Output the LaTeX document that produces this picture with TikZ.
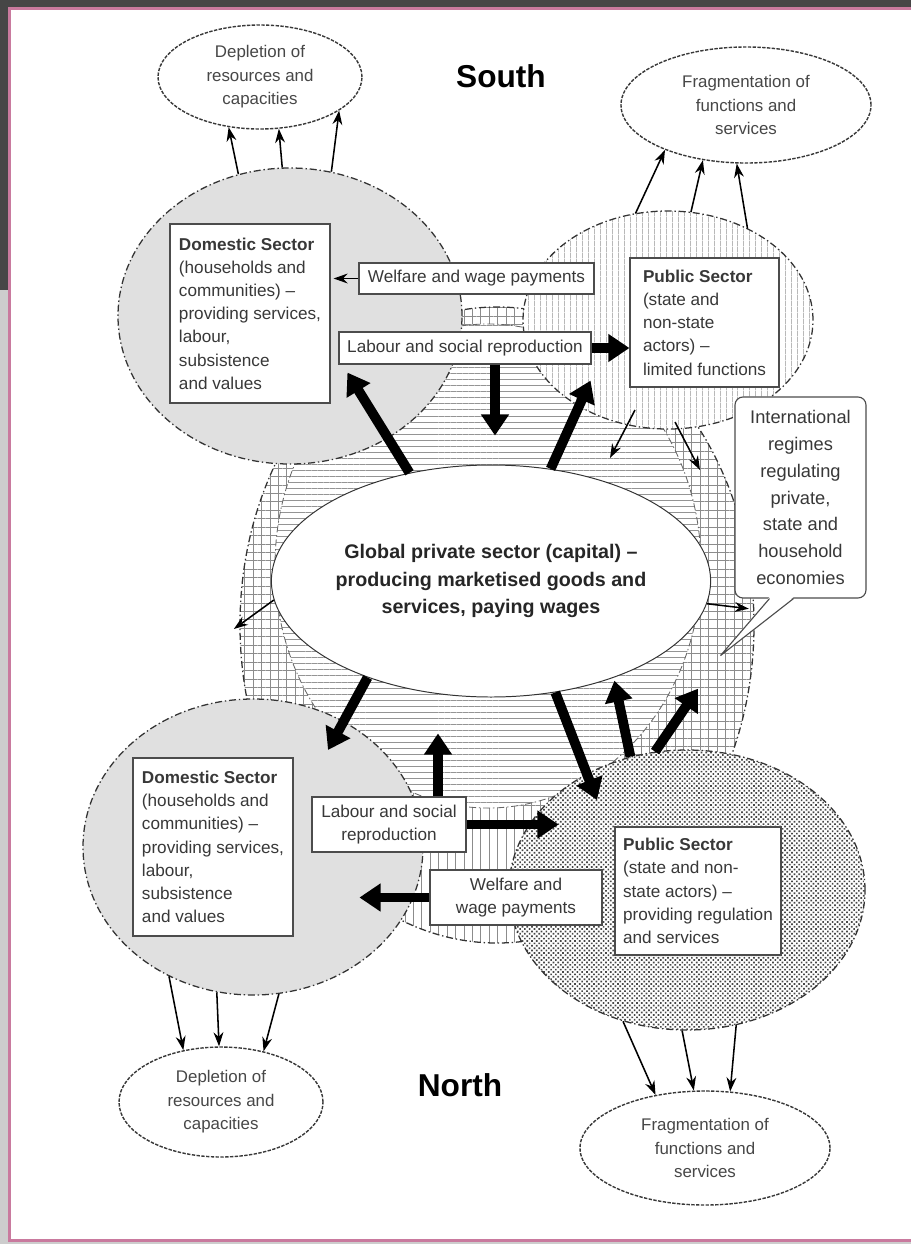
\documentclass[tikz,border=0pt]{standalone}
\usepackage{fontspec}
\setmainfont{Liberation Sans}
\usetikzlibrary{shapes.geometric, patterns.meta, arrows.meta, calc}
\definecolor{pagepink}{RGB}{201,122,158}
\definecolor{framegray}{RGB}{70,70,70}
\definecolor{sidegray}{RGB}{205,205,205}
\definecolor{domgray}{RGB}{224,224,224}

\begin{document}
\begin{tikzpicture}[x=0.25mm, y=-0.25mm,
  dashdot/.style={dash pattern=on 5pt off 2pt on 1pt off 2pt},
  sector/.style={ellipse, draw=black!80, line width=0.9pt, dashdot, inner sep=0pt},
  outcome/.style={ellipse, draw=black!78, line width=1pt, dash pattern=on 2.4pt off 1pt,
                  fill=white, inner sep=0pt, align=center, text=black!72,
                  font=\fontsize{12}{16.7}\selectfont},
  box/.style={draw=black!70, line width=0.8pt, fill=white, inner sep=0pt, text=black!78,
              font=\fontsize{12.2}{16.5}\selectfont},
  flow/.style={-{Stealth[length=10pt, width=7pt]}, line width=1.1pt},
  bigflow/.style={-{Triangle[length=15pt, width=19pt]}, line width=7pt}]
  \useasboundingbox (0,0) rectangle (911,1244);
  % page frame
  \fill[sidegray] (0,0) rectangle (911,1244);
  \fill[framegray] (0,0) rectangle (911,7);
  \fill[framegray] (0,0) rectangle (8,290);
  \fill[pagepink] (8,7) rectangle (911,1242);
  \fill[white] (11,10) rectangle (911,1239);

  % international regimes (grid) and private sector sphere
  \node[ellipse, inner sep=0pt, minimum width=128.5mm, minimum height=159mm, preaction={fill=white},
        pattern={Lines[angle=90, distance=6pt, line width=0.45pt]}, pattern color=black!45] (reg) at (497,625) {};
  \begin{scope}
    \clip (reg.center) ellipse [x radius=64.25mm, y radius=79.5mm];
    \fill[pattern={Lines[angle=0, distance=6pt, line width=0.45pt]}, pattern color=black!45] (11,10) rectangle (911,808);
  \end{scope}
  \draw[black!80, line width=0.9pt, dashdot] (reg.center) ellipse [x radius=64.25mm, y radius=79.5mm];
  \node[ellipse, draw=black!60, line width=0.6pt, dashdot, inner sep=0pt, minimum width=106.5mm, minimum height=121mm,
        preaction={fill=white}, pattern={Lines[angle=0, distance=4.3pt, line width=0.4pt]},
        pattern color=black!42] (prv) at (488,566) {};

  % the four sectors
  \node[sector, fill=domgray, minimum width=86mm, minimum height=74mm] (dom_s) at (290,316) {};
  \node[sector, preaction={fill=white}, pattern={Lines[angle=90, distance=4pt, line width=0.4pt]},
        pattern color=black!42, minimum width=72.5mm, minimum height=54.5mm] (pub_s) at (668,320) {};
  \node[sector, fill=domgray, minimum width=85mm, minimum height=74mm] (dom_n) at (253,847) {};
  \node[sector, preaction={fill=white}, pattern={Dots[distance=2.4pt, angle=45, radius=0.85pt]},
        pattern color=black!72, minimum width=89mm, minimum height=70mm] (pub_n) at (687,890) {};

  \node[ellipse, draw=black!80, line width=0.7pt, fill=white, inner sep=0pt, minimum width=100.5mm,
        minimum height=58mm, align=center, text=black!85, font=\bfseries\fontsize{14}{19.8}\selectfont] (cen)
        at (491,581) {Global private sector (capital) –\\producing marketised goods and\\services, paying wages};

  % text boxes
  \node[box, align=left, minimum width=40mm, minimum height=44.75mm] (dom_sbox) at (250,313.5)
    {\textbf{Domestic Sector}\\(households and\\communities) –\\providing services,\\labour,\\subsistence\\and values};
  \node[box, align=left, minimum width=37.25mm, minimum height=32.25mm] (pub_sbox) at (704.5,322.5)
    {\textbf{Public Sector}\\(state and\\non-state\\actors) –\\limited functions};
  \node[box, align=left, minimum width=40mm, minimum height=44.5mm] (dom_nbox) at (213,847)
    {\textbf{Domestic Sector}\\(households and\\communities) –\\providing services,\\labour,\\subsistence\\and values};
  \node[box, align=left, minimum width=41.5mm, minimum height=32mm] (pub_nbox) at (698,891)
    {\textbf{Public Sector}\\(state and non-\\state actors) –\\providing regulation\\and services};
  \node[box, minimum width=58.75mm, minimum height=7.75mm] (wel_s) at (476.5,278.5) {Welfare and wage payments};
  \node[box, minimum width=63mm, minimum height=8mm] (lab_s) at (465,348) {Labour and social reproduction};
  \node[box, align=center, minimum width=38.5mm, minimum height=13.75mm] (lab_n) at (389,824.5) {Labour and social\\reproduction};
  \node[box, align=center, minimum width=43mm, minimum height=13.75mm] (wel_n) at (516,897.5) {Welfare and\\wage payments};

  % callout
  \node[box, rounded corners=2mm, align=center, minimum width=32.75mm, minimum height=50.25mm,
        font=\fontsize{13}{19}\selectfont] (intl) at (800.5,497.5)
    {International\\regimes\\regulating\\private,\\state and\\household\\economies};
  \coordinate (ptip) at ($(intl.south)+(-80,57)$);
  \fill[white] ($(intl.south)+(-31,-1.5)$) -- (ptip) -- ($(intl.south)+(-7,-1.5)$) -- cycle;
  \draw[black!70, line width=0.8pt] ($(intl.south)+(-31,0)$) -- (ptip) -- ($(intl.south)+(-7,0)$);

  % outcomes
  \node[outcome, minimum width=51mm, minimum height=26mm] (dep_s) at (260,77) {Depletion of\\resources and\\capacities};
  \node[outcome, minimum width=62.5mm, minimum height=29mm] (frag_s) at (746,105) {Fragmentation of\\functions and\\services};
  \node[outcome, minimum width=51mm, minimum height=27.5mm] (dep_n) at (221,1102) {Depletion of\\resources and\\capacities};
  \node[outcome, minimum width=62.5mm, minimum height=28.5mm] (frag_n) at (705,1148) {Fragmentation of\\functions and\\services};

  \node[font=\bfseries\fontsize{22.5}{26}\selectfont] (south) at (501,76) {South};
  \node[font=\bfseries\fontsize{22.5}{26}\selectfont] (north) at (460,1085) {North};

  % thin arrows
  \foreach \a/\b in {110.6/238.9, 93.5/290.9, 74.7/337.6}
    \draw[flow] (dom_s.\a) -- (dep_s.\b);
  \foreach \a/\b in {107.5/209.7, 78.5/232, 49.4/261.5}
    \draw[flow] (pub_s.\a) -- (frag_s.\b);
  \foreach \a/\b in {237.1/126.2, 256.9/92.1, 280/50.2}
    \draw[flow] (dom_n.\a) -- (dep_n.\b);
  \foreach \a/\b in {244.3/133.9, 268.8/101.3, 290.8/66.6}
    \draw[flow] (pub_n.\a) -- (frag_n.\b);
  \draw[flow] (wel_s.west) -- ($(wel_s.west -| dom_sbox.east)+(3,0)$);
  \draw[flow] ($(pub_s)+(-33,90)$) -- ++(-25,48);
  \draw[flow] ($(pub_s)+(7,102)$) -- ++(25,48);
  \draw[flow] (cen.185) -- ++(-40,29);
  \draw[flow] (cen.354.5) -- ++(42,5);

  % thick arrows
  \draw[bigflow] (cen.127.9) -- ($(lab_s.south west)+(9,8)$);
  \draw[bigflow] (cen.62.6) -- ($(lab_s.south east)+(-1,16)$);
  \draw[bigflow] ($(lab_s.south)+(30,0)$) -- ++(0,71);
  \draw[bigflow] (lab_s.east) -- (lab_s.east -| pub_sbox.west);
  \draw[bigflow] (cen.218.9) -- ($(dom_n)+(75,-97)$);
  \draw[bigflow] (cen.300.5) -- ($(pub_n)+(-90,-90)$);
  \draw[bigflow] (pub_n.113) -- ++(-16,-76);
  \draw[bigflow] (pub_n.103.3) -- ++(43,-63);
  \draw[bigflow] ($(lab_n.north)+(49,0)$) -- ++(0,-63);
  \draw[bigflow] (lab_n.east) -- ++(92,0);
  \draw[bigflow] (wel_n.west) -- ++(-70,0);
\end{tikzpicture}
\end{document}
